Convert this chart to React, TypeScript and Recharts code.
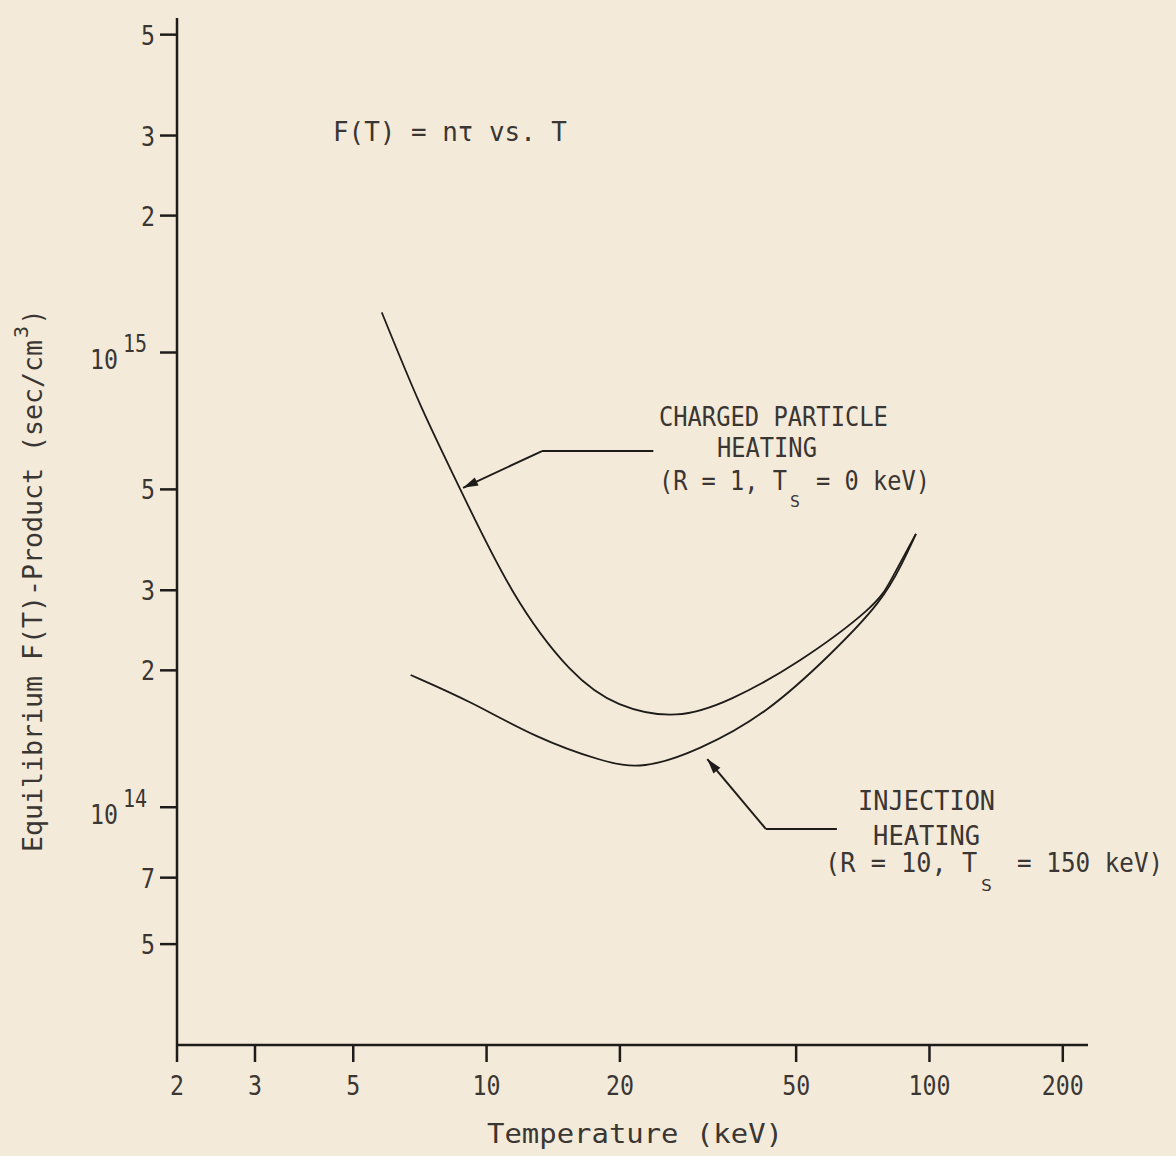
import { LineChart, Line, XAxis, YAxis, ReferenceLine, ReferenceDot } from 'recharts';

// Temperature (keV) and n-tau (sec/cm^3)
const chargedT = [5.8, 7.06, 8.69, 11.45, 15.4, 19.95, 26.8, 35.9, 50.8, 71.9, 82.3, 93.2];
const chargedF = [1.225e15, 7.74e14, 5.04e14, 2.99e14, 2.02e14, 1.686e14, 1.6e14, 1.738e14, 2.1e14, 2.7e14, 3.19e14, 3.99e14];
const injectionT = [6.74, 9.16, 12.96, 18.26, 22.5, 30.2, 42.8, 60.3, 78.2, 87.0, 93.2];
const injectionF = [1.953e14, 1.713e14, 1.419e14, 1.26e14, 1.21e14, 1.335e14, 1.603e14, 2.18e14, 2.84e14, 3.45e14, 3.99e14];

const xTicks = [2, 3, 5, 10, 20, 50, 100, 200];
const yTicks = [5e13, 7e13, 1e14, 2e14, 3e14, 5e14, 1e15, 2e15, 3e15, 5e15];

const BG = '#f4ead9';
const INK = '#1e1c1a';
const TXT = '#3a3633';
const FONT = '"DejaVu Sans Mono", monospace';

const charged = chargedT.map((t, i) => ({ t, f: chargedF[i] }));
const injection = injectionT.map((t, i) => ({ t, f: injectionF[i] }));

// condensed typewriter-ish text
function T({ x, y, w, size = 27, anchor = 'start', children }: any) {
  return (
    <text
      x={x}
      y={y}
      fontFamily={FONT}
      fontSize={size}
      fill={TXT}
      textAnchor={anchor}
      textLength={w}
      lengthAdjust="spacingAndGlyphs"
    >
      {children}
    </text>
  );
}

function XTick({ x, y, payload }: any) {
  const s = String(payload.value);
  return <T x={x} y={y + 31} w={s.length * 14} anchor="middle">{s}</T>;
}

function YTick({ x, y, payload }: any) {
  const v = payload.value;
  const e = Math.floor(Math.log10(v) + 1e-9);
  const m = Math.round(v / Math.pow(10, e));
  if (m === 1) {
    return (
      <g>
        <T x={x - 40} y={y + 17} w={28} anchor="end">10</T>
        <T x={x - 11} y={y} w={24} size={25} anchor="end">{String(e)}</T>
      </g>
    );
  }
  return <T x={x - 3} y={y + 10} w={14} anchor="end">{String(m)}</T>;
}

function Arrow(p: any) {
  const { x1, y1, x2, y2, head } = p;
  const a = Math.atan2(y2 - y1, x2 - x1);
  const L = 15;
  const W = 4.5;
  const bx = x2 - L * Math.cos(a);
  const by = y2 - L * Math.sin(a);
  const nx = -Math.sin(a) * W;
  const ny = Math.cos(a) * W;
  return (
    <g>
      <line x1={x1} y1={y1} x2={x2} y2={y2} stroke={INK} strokeWidth={2} />
      {head && <polygon points={`${x2},${y2} ${bx + nx},${by + ny} ${bx - nx},${by - ny}`} fill={INK} />}
    </g>
  );
}

function ChargedNote({ cx, cy }: any) {
  return (
    <g>
      <T x={cx} y={cy} w={229}>CHARGED PARTICLE</T>
      <T x={cx + 58} y={cy + 31} w={100}>HEATING</T>
      <T x={cx} y={cy + 64} w={128}>(R = 1, T</T>
      <T x={cx + 131} y={cy + 81} w={10} size={16}>S</T>
      <T x={cx + 157} y={cy + 64} w={114}>= 0 keV)</T>
    </g>
  );
}

function InjectionNote({ cx, cy }: any) {
  return (
    <g>
      <T x={cx} y={cy} w={137}>INJECTION</T>
      <T x={cx + 15} y={cy + 35} w={107}>HEATING</T>
      <T x={cx - 33} y={cy + 62} w={152}>(R = 10, T</T>
      <T x={cx + 123} y={cy + 81} w={11} size={16}>S</T>
      <T x={cx + 159} y={cy + 62} w={146}>= 150 keV)</T>
    </g>
  );
}

function TitleNote({ cx, cy }: any) {
  return <T x={cx} y={cy} w={234}>F(T) = nτ vs. T</T>;
}

export default function App() {
  return (
    <div style={{ position: 'absolute', left: 0, top: 0, width: 1176, height: 1156, background: BG }}>
      <LineChart width={1176} height={1156} margin={{ top: 18, right: 88, bottom: 0, left: 0 }}>
        <XAxis
          type="number"
          dataKey="t"
          scale="log"
          domain={[2, 228]}
          allowDataOverflow
          ticks={xTicks}
          tick={<XTick />}
          tickSize={17}
          height={111}
          axisLine={{ stroke: INK, strokeWidth: 2.5 }}
          tickLine={{ stroke: INK, strokeWidth: 2.5 }}
        />
        <YAxis
          type="number"
          dataKey="f"
          scale="log"
          domain={[3e13, 5.44e15]}
          allowDataOverflow
          ticks={yTicks}
          tick={<YTick />}
          tickSize={17}
          width={177}
          axisLine={{ stroke: INK, strokeWidth: 2.5 }}
          tickLine={{ stroke: INK, strokeWidth: 2.5 }}
        />
        <Line data={charged} dataKey="f" type="natural" stroke={INK} strokeWidth={1.8} dot={false} isAnimationActive={false} />
        <Line data={injection} dataKey="f" type="basis" stroke={INK} strokeWidth={1.8} dot={false} isAnimationActive={false} />

        <ReferenceLine segment={[{ x: 23.8, y: 6.07e14 }, { x: 13.34, y: 6.07e14 }]} shape={<Arrow />} ifOverflow="visible" />
        <ReferenceLine segment={[{ x: 13.34, y: 6.07e14 }, { x: 8.85, y: 5.04e14 }]} shape={<Arrow head />} ifOverflow="visible" />
        <ReferenceLine segment={[{ x: 61.8, y: 8.96e13 }, { x: 42.7, y: 8.96e13 }]} shape={<Arrow />} ifOverflow="visible" />
        <ReferenceLine segment={[{ x: 42.7, y: 8.96e13 }, { x: 31.5, y: 1.276e14 }]} shape={<Arrow head />} ifOverflow="visible" />

        <ReferenceDot x={4.5} y={2.925e15} r={0} shape={<TitleNote />} ifOverflow="visible" />
        <ReferenceDot x={24.5} y={6.89e14} r={0} shape={<ChargedNote />} ifOverflow="visible" />
        <ReferenceDot x={69.0} y={9.86e13} r={0} shape={<InjectionNote />} ifOverflow="visible" />
      </LineChart>
      <svg width={1176} height={1156} style={{ position: 'absolute', left: 0, top: 0, pointerEvents: 'none' }}>
        <T x={635} y={1143} w={296} anchor="middle">Temperature (keV)</T>
        <g transform="rotate(-90, 42, 852)">
          <T x={42} y={852} w={512}>Equilibrium F(T)-Product (sec/cm</T>
          <T x={556} y={838} w={12} size={20}>3</T>
          <T x={570} y={852} w={14}>)</T>
        </g>
      </svg>
    </div>
  );
}
